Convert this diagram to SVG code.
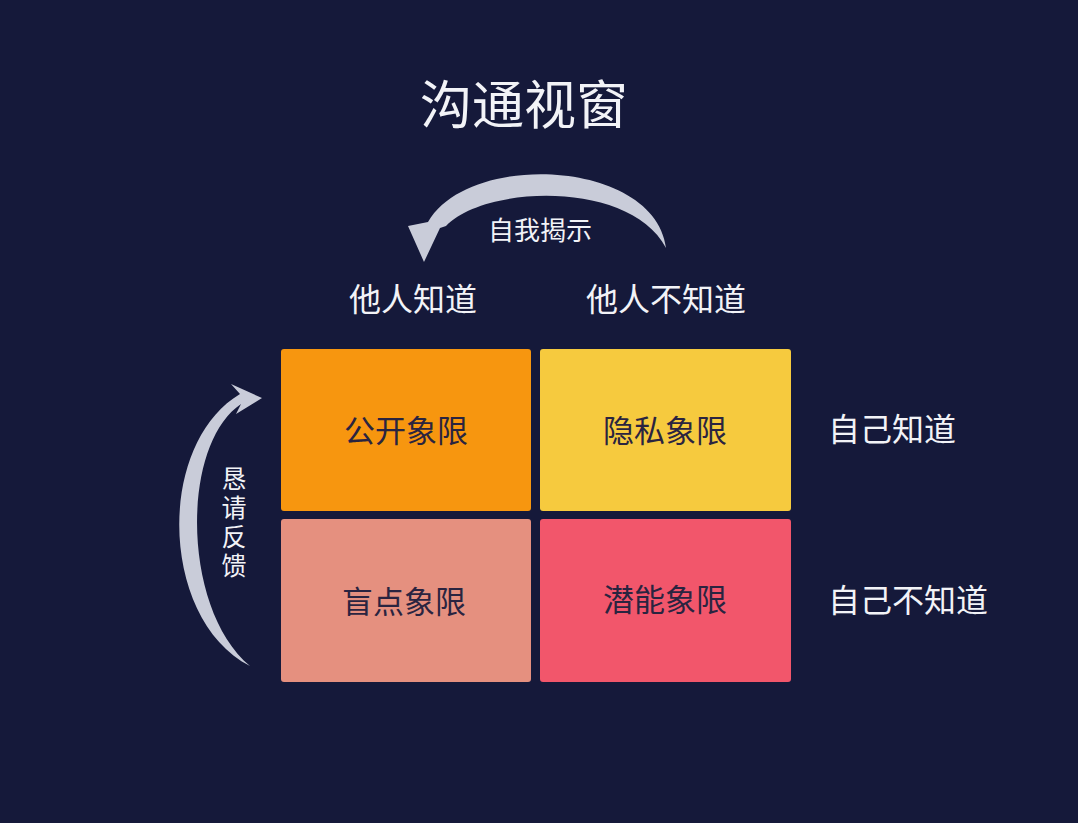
<svg xmlns="http://www.w3.org/2000/svg" width="1078" height="823" viewBox="0 0 1078 823">
<style>
.t{font-family:"Noto Sans CJK SC","Noto Sans",sans-serif;fill:#f2f3f7;}
.q{font-family:"Noto Sans CJK SC","Noto Sans",sans-serif;fill:#2a2440;font-size:31px;text-anchor:middle;}
.arc{fill:#c9ccd9;}
</style>
<rect width="1078" height="823" fill="#15193a"/>
<text class="t" x="524" y="124" font-size="52" text-anchor="middle">沟通视窗</text>
<g id="connectors">
<path class="arc" d="M666,248 C655,160 470,150 428,222 L408,226 L424,262 L440,228 L446,226 C485,185 630,180 666,248 Z"/>
<path class="arc" d="M250,666 C160,620 155,445 240,394 L231,384 L262,398 L236,414 L241,404 C180,445 182,610 250,666 Z"/>
</g>
<text class="t" x="540" y="240" font-size="26" text-anchor="middle">自我揭示</text>
<text class="t" x="413" y="311" font-size="32" text-anchor="middle">他人知道</text>
<text class="t" x="666" y="311" font-size="32" text-anchor="middle">他人不知道</text>
<text class="t" x="828" y="441" font-size="32">自己知道</text>
<text class="t" x="828" y="612" font-size="32">自己不知道</text>
<text class="t" x="234" y="466" font-size="25" letter-spacing="4" style="writing-mode:vertical-rl">恳请反馈</text>
<g id="open"><rect x="281" y="349" width="250" height="162" rx="3" fill="#f7960f"/><text class="q" x="406" y="442">公开象限</text></g>
<g id="hidden"><rect x="540" y="349" width="251" height="162" rx="3" fill="#f6ca3e"/><text class="q" x="665" y="442">隐私象限</text></g>
<g id="blind"><rect x="281" y="519" width="250" height="163" rx="3" fill="#e5907f"/><text class="q" x="404" y="613">盲点象限</text></g>
<g id="unknown"><rect x="540" y="519" width="251" height="163" rx="3" fill="#f2566b"/><text class="q" x="665" y="611">潜能象限</text></g>
</svg>
